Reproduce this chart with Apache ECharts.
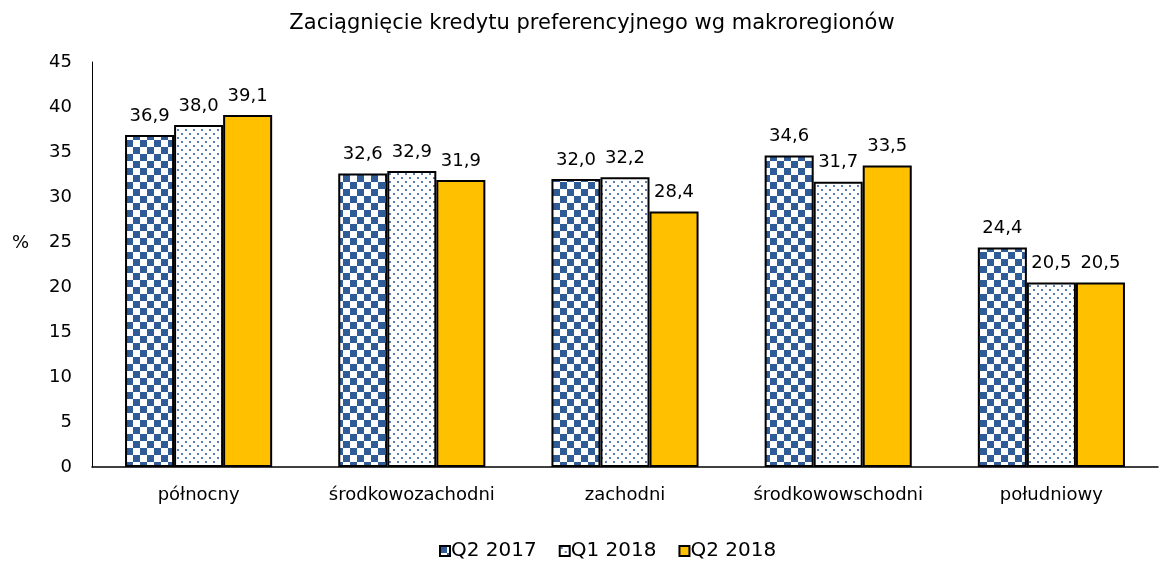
<!DOCTYPE html>
<html>
<head>
<meta charset="utf-8">
<script src="https://cdn.jsdelivr.net/npm/echarts@6/dist/echarts.min.js"></script>
<style>
  html, body { margin: 0; padding: 0; background: #ffffff; }
  #chart { width: 1168px; height: 569px; }
</style>
</head>
<body>
<div id="chart"></div>
<script>
// Macroregions and shares of households taking a preferential loan (%)
const categories = ['północny', 'środkowozachodni', 'zachodni', 'środkowowschodni', 'południowy'];
const seriesNames = ['Q2 2017', 'Q1 2018', 'Q2 2018'];
const q2_2017 = [36.9, 32.6, 32.0, 34.6, 24.4];
const q1_2018 = [38.0, 32.9, 32.2, 31.7, 20.5];
const q2_2018 = [39.1, 31.9, 28.4, 33.5, 20.5];
const yTicks = [0, 5, 10, 15, 20, 25, 30, 35, 40, 45];

const FONT = 'DejaVu Sans';
const BLUE = '#2f5b96';

// Checkerboard fill
function checkerPattern() {
  const c = document.createElement('canvas');
  const s = 7;
  c.width = s * 2; c.height = s * 2;
  const g = c.getContext('2d');
  g.fillStyle = '#ffffff';
  g.fillRect(0, 0, s * 2, s * 2);
  g.fillStyle = BLUE;
  g.fillRect(0, 0, s, s);
  g.fillRect(s, s, s, s);
  return { image: c, repeat: 'repeat' };
}

// Sparse staggered dot fill
function dotPattern() {
  const c = document.createElement('canvas');
  c.width = 8; c.height = 8;
  const g = c.getContext('2d');
  g.fillStyle = '#ffffff';
  g.fillRect(0, 0, 8, 8);
  g.fillStyle = '#5b80b6';
  g.fillRect(1, 1, 2, 2);
  g.fillRect(5, 5, 2, 2);
  return { image: c, repeat: 'repeat' };
}

const fills = [checkerPattern(), dotPattern(), '#ffc000'];
const dataSets = [q2_2017, q1_2018, q2_2018];

const chart = echarts.init(document.getElementById('chart'), null, { renderer: 'canvas' });

const fmt = v => v.toFixed(1).replace('.', ',');

chart.setOption({
  animation: false,
  backgroundColor: '#ffffff',
  textStyle: { fontFamily: FONT, color: '#000' },
  title: {
    text: 'Zaciągnięcie kredytu preferencyjnego wg makroregionów',
    left: 587,
    textAlign: 'center',
    top: 8,
    textStyle: { fontFamily: FONT, fontSize: 21, fontWeight: 'normal', color: '#000' }
  },
  graphic: [{
    type: 'text',
    left: 12,
    top: 234,
    style: { text: '%', font: '18px "DejaVu Sans"', fill: '#000' }
  }],
  legend: {
    bottom: 3,
    left: 434,
    itemWidth: 10,
    itemHeight: 10,
    itemGap: 22,
    textStyle: { fontFamily: FONT, fontSize: 20, color: '#000', padding: [0, 0, 0, -4] },
    data: seriesNames.map(n => ({ name: n, icon: 'rect' }))
  },
  grid: { left: 92, right: 10, top: 62, bottom: 102, containLabel: false },
  xAxis: {
    type: 'category',
    data: categories,
    axisLine: { lineStyle: { color: '#000', width: 1.5 } },
    axisTick: { show: false },
    axisLabel: { fontFamily: FONT, fontSize: 18, color: '#000', margin: 19, interval: 0 }
  },
  yAxis: {
    type: 'value',
    min: 0, max: 45, interval: 5,
    splitLine: { show: false },
    axisLine: { show: true, lineStyle: { color: '#000', width: 1 } },
    axisTick: { show: false },
    axisLabel: {
      fontFamily: FONT, fontSize: 18, color: '#000', margin: 20,
      formatter: v => yTicks.includes(v) ? String(v) : ''
    }
  },
  series: seriesNames.map((name, i) => ({
    name,
    type: 'bar',
    data: dataSets[i],
    barGap: '0%',
    barCategoryGap: '31%',
    itemStyle: { color: fills[i], borderColor: '#000', borderWidth: 2 },
    label: {
      show: true,
      position: 'top',
      distance: 10,
      fontFamily: FONT,
      fontSize: 18,
      color: '#000',
      formatter: p => fmt(p.value)
    }
  }))
});
</script>
</body>
</html>
